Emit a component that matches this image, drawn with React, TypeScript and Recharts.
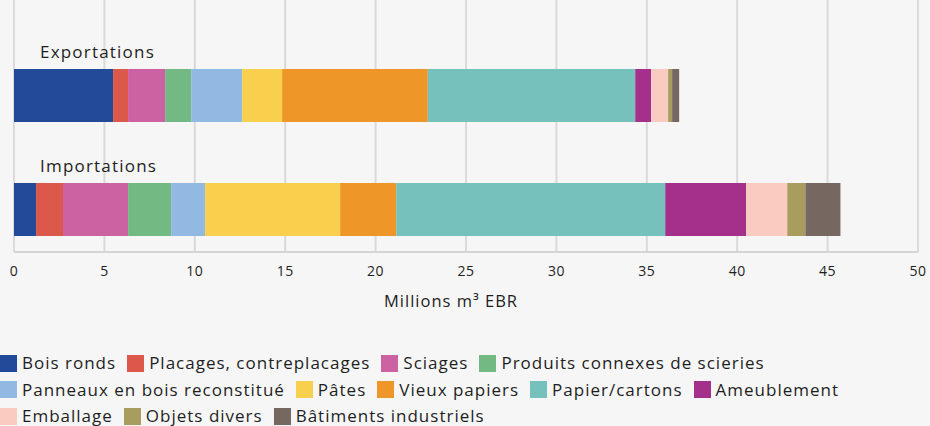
import React from 'react';
import { BarChart, Bar, XAxis, YAxis, CartesianGrid, Legend, LabelList } from 'recharts';

const categories = ['Exportations', 'Importations'];
const seriesNames = [
  'Bois ronds',
  'Placages, contreplacages',
  'Sciages',
  'Produits connexes de scieries',
  'Panneaux en bois reconstitué',
  'Pâtes',
  'Vieux papiers',
  'Papier/cartons',
  'Ameublement',
  'Emballage',
  'Objets divers',
  'Bâtiments industriels',
];
const exportValues = [5.48, 0.83, 2.05, 1.44, 2.82, 2.21, 8.06, 11.47, 0.88, 0.94, 0.22, 0.39];
const importValues = [1.22, 1.49, 3.6, 2.38, 1.88, 7.47, 3.1, 14.88, 4.48, 2.27, 1.0, 1.94];
const colors = [
  '#224A98', '#DB584B', '#CC62A1', '#72B983', '#91B9E1', '#F9D04E',
  '#EF9628', '#77C1BD', '#A5308C', '#FACBC0', '#A89D5F', '#766860',
];
const xTicks = [0, 5, 10, 15, 20, 25, 30, 35, 40, 45, 50];
const axisTitle = 'Millions m³ EBR';

const FONT = '"Open Sans", sans-serif';
const TEXT = '#1e1e1e';

const data = categories.map((name, i) => {
  const vals = i === 0 ? exportValues : importValues;
  const row: Record<string, any> = { name };
  vals.forEach((v, j) => {
    row['s' + j] = v;
  });
  return row;
});

const CategoryLabel = (props: any) => {
  const { x, y, value } = props;
  return (
    <text x={x + 26} y={y - 11} fontSize={17} fontFamily={FONT} fill={TEXT} letterSpacing={1.2}>
      {value}
    </text>
  );
};

const LegendContent = () => (
  <div
    style={{
      display: 'flex',
      flexWrap: 'wrap',
      width: 900,
      fontFamily: FONT,
      fontSize: 17,
      letterSpacing: 1,
      color: TEXT,
      lineHeight: '26.5px',
    }}
  >
    {seriesNames.map((s, j) => (
      <div key={s} style={{ display: 'flex', alignItems: 'center', marginRight: 11 }}>
        <span style={{ width: 17, height: 17, background: colors[j], display: 'inline-block', marginRight: 5 }} />
        <span>{s}</span>
      </div>
    ))}
  </div>
);

export default function App() {
  return (
    <div style={{ position: 'absolute', left: 0, top: 0, width: 930, height: 426, background: '#f6f6f6' }}>
      <BarChart
        width={930}
        height={426}
        data={data}
        layout="vertical"
        margin={{ top: 0, right: 12, bottom: 0, left: 14 }}
        barSize={53}
      >
        <CartesianGrid horizontal={false} stroke="#dadada" strokeWidth={2} />
        <XAxis
          type="number"
          domain={[0, 50]}
          ticks={xTicks}
          interval={0}
          tickLine={false}
          tickMargin={8}
          axisLine={{ stroke: '#d4d4d4', strokeWidth: 2 }}
          tick={{ fontSize: 14, fill: TEXT, fontFamily: FONT, letterSpacing: 0.5 }}
          height={98}
          label={{ value: axisTitle, position: 'insideTop', offset: 43, dx: -15, fontSize: 16.5, fill: TEXT, fontFamily: FONT, letterSpacing: 1 }}
        />
        <YAxis type="category" dataKey="name" hide padding={{ top: 38, bottom: -14 }} />
        <Legend
          verticalAlign="bottom"
          align="left"
          height={76}
          wrapperStyle={{ left: 0 }}
          content={<LegendContent />}
        />
        {seriesNames.map((s, j) => (
          <Bar key={s} dataKey={'s' + j} name={s} stackId="a" fill={colors[j]} isAnimationActive={false}>
            {j === 0 && <LabelList dataKey="name" content={<CategoryLabel />} />}
          </Bar>
        ))}
      </BarChart>
    </div>
  );
}
